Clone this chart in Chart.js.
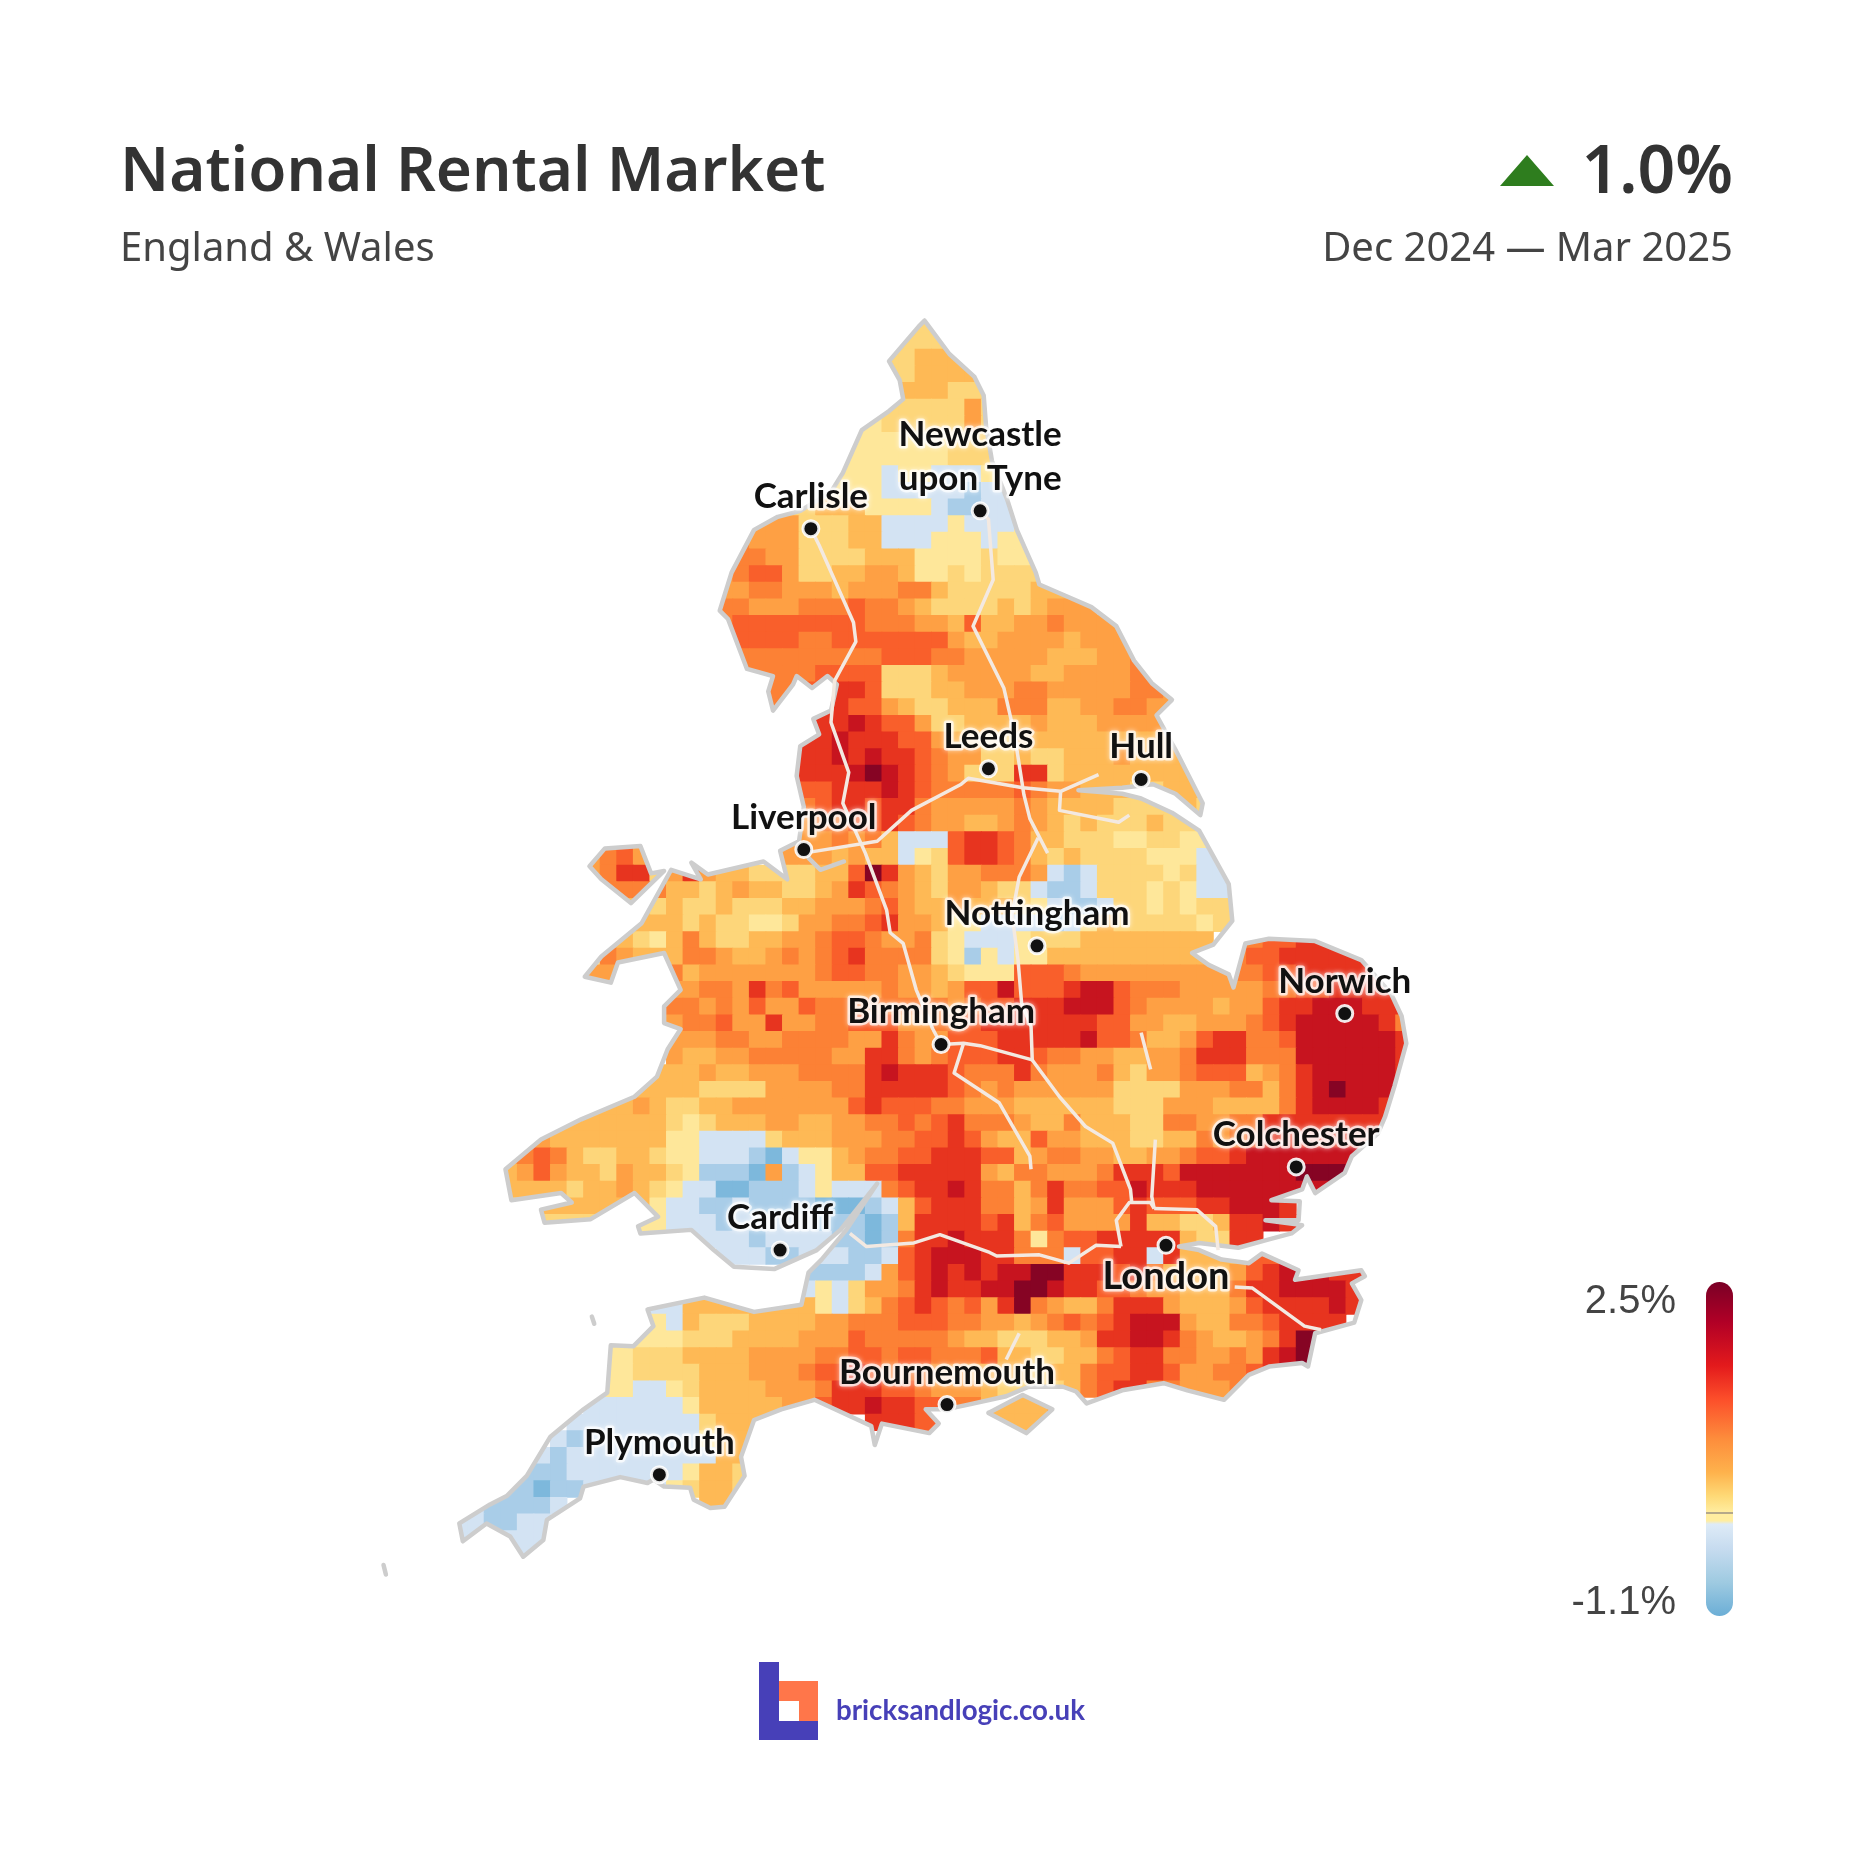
<!DOCTYPE html>
<html>
<head>
<meta charset="utf-8">
<title>National Rental Market</title>
<script src="https://cdn.jsdelivr.net/npm/chart.js@4"></script>
<style>
    html, body { margin: 0; padding: 0; background: #fff; }
    #page { position: relative; width: 1854px; height: 1854px; overflow: hidden; font-family: "Noto Sans", sans-serif; color: #333; }
    #page canvas { position: absolute; left: 0; top: 0; }
    .txt { position: absolute; white-space: nowrap; line-height: 1; }
    #title { left: 120px; top: 136px; font-size: 62px; font-weight: 600; }
    #subtitle { left: 120px; top: 226px; font-size: 40px; color: #444; }
    #change { right: 121px; top: 134px; font-size: 66px; font-weight: 600; }
    #period { right: 121px; top: 226px; font-size: 40px; color: #444; }
    #arrow { position: absolute; left: 1500px; top: 155px; width: 0; height: 0; border-left: 27px solid transparent; border-right: 27px solid transparent; border-bottom: 31px solid #2e7d1e; }
    #scaleBar { position: absolute; left: 1706px; top: 1282px; width: 27px; height: 334px; border-radius: 14px; }
    #scaleZero { position: absolute; left: 1706px; top: 1512px; width: 27px; height: 2px; background: #b5a98a; }
    .scaleLabel { right: 178px; font-family: "Liberation Sans", sans-serif; font-size: 40px; color: #444; }
    #logoStem { position: absolute; left: 759px; top: 1662px; width: 20px; height: 78px; background: #4740b8; }
    #logoBase { position: absolute; left: 759px; top: 1721px; width: 59px; height: 19px; background: #4740b8; }
    #logoBrick { position: absolute; left: 779px; top: 1681px; width: 39px; height: 40px; background: #ff764a; }
    #logoHole { position: absolute; left: 779px; top: 1701px; width: 20px; height: 20px; background: #fff; }
    #logoText { left: 836px; top: 1696px; font-family: Lato, sans-serif; font-weight: 700; font-size: 27.7px; color: #4740b8; }
</style>
</head>
<body>
<div id="page">
    <canvas id="mapChart" width="1854" height="1854"></canvas>
    <div class="txt" id="title">National Rental Market</div>
    <div class="txt" id="subtitle">England &amp; Wales</div>
    <div id="arrow"></div>
    <div class="txt" id="change">1.0%</div>
    <div class="txt" id="period">Dec 2024 — Mar 2025</div>
    <div id="scaleBar"></div>
    <div id="scaleZero"></div>
    <div class="txt scaleLabel" id="scaleMax" style="top:1279px">2.5%</div>
    <div class="txt scaleLabel" id="scaleMin" style="top:1580px">-1.1%</div>
    <div id="logoStem"></div><div id="logoBase"></div><div id="logoBrick"></div><div id="logoHole"></div>
    <div class="txt" id="logoText">bricksandlogic.co.uk</div>
</div>

<script>
// rent change by map cell, one entry per row: "startColumn:levels", a letter per cell
const levelKeys = 'abcdefghijkl'.split('');
const levelValues = [-1.0, -0.6, -0.25, 0.15, 0.4, 0.65, 0.9, 1.15, 1.4, 1.7, 2.0, 2.4];
const levelColors = ['#7db8dc', '#a9cde8', '#d3e3f3', '#fee79a', '#fdd67a', '#feb955', '#fea044', '#fc8135', '#f95f2b', '#e7341f', '#c7141f', '#860424'];

const cellRows = [
    "28:ee",
    "27:eeeef",
    "26:eefffe",
    "26:eeffffe",
    "26:efffeee",
    "25:eeeeeege",
    "24:ddeeeeegee",
    "24:ddddddeeee",
    "23:dddddddeeee",
    "23:dddcddcccddd",
    "22:ddddcccccbccc",
    "19:eeefffddddcbbccc",
    "18:gggeeeffccccdcccd",
    "17:hgggeeeffcccdddcdd",
    "17:hhggeeeefffddddeddd",
    "16:ghiigeeffggfddedeeee",
    "16:gghhgggfggghhfeeeeefff",
    "16:hhggghhhihhgfeeeefefggg",
    "16:hiiiiiiiihhhggfiffgghgggg",
    "16:hiiiihhiiiiiiigffggggfgggg",
    "17:hhhhhhhhhiiihhgggggfffgghh",
    "17:hhhhhiiiieeefgggggffgggghhg",
    "18:hhhiijjieeeffggghhggggghhgg",
    "19:hhijjiigfeefffhhhffgghhgg",
    "22:jjkjiigeeffffgfffggggf",
    "20:jjjkjjjiigffeefffffffffff",
    "21:jjkjkjjihggeefeefffgfffff",
    "21:jjjklkjihgeeejjeffffffffff",
    "21:iijjjkjihhhhhihggfffeeffff",
    "20:ghijjijjhggggghgffffeeeefee",
    "20:gghhiijihggffghgfefeeefeeee",
    "20:ggghghfcccijjihffeeeddeedddd",
    "8:ghiggf 20:gggfgffcdeijjihfefeeeedddcccc",
    "8:ghjjeg 14:jgffeeeeffiljgfegghhhgcbceeeedeccccc",
    "9:hh 11:hhffefgffeefgjihgfeggfeecbbceeededccce",
    "10:ffefeefeeeffggghigffgfffedcbbceededeeee",
    "9:ggfffefeeddegghhijggfddccccbcdfeeeeedeef",
    "7:ffffedfhfeeffgghiihgghedcccdeeeffffffff 47:hhiijjjj",
    "6:gfdhgfffhhgffghghijhhhhedbdcddfffffffffff 47:hiijjjjj",
    "8:ggf 12:hhfggggggghiihhggfedddiiihggggggggghhiijjjjj",
    "13:gghhgjhiggggghggfgiikiiijkkihhhggggghhiijjjji",
    "13:hhghgiggihhhhhhhhghiijjjkkkihggggfggijjkkkjjj",
    "13:ghhiggjgghhiiigghhijjjjjjjiiggffggghijkkkkkjh",
    "13:ggghhgghhhhggjhggiiijjjjjkiihffgijjhhikkkkkkjj",
    "13:gffgghhhhhggjjhghiiijjihhggffgghjjjhhhkkkkkkjj",
    "12:fffgffggghhhhjkjjjihhhjhggghfegghiiifghjkkkkkj",
    "10:fffffeeeegggghhjjjjjihghggggggeeeeggghhfhjklkkkj",
    "8:fffgfeeffgggggggijiiihhgggffffffeeegggffffhjkkkkjj",
    "6:fffffffedefffggffgghhihijhhhgffhfffeehhgghhjjjjjjjj",
    "5:gfffffffddccccefffggghhiijigffiggfffeeffhghijjjjjjjj",
    "3:ghihfeeffeddcccbacddfghhiijjjiifghhggffgghiijkkkkkkkkk",
    "2:ffgigffegffedbbbagbcdffiijjjjjgfhhggghjjjikkkkkkklllk",
    "2:fffffeffgfedccaabbbcdccchijjkjhhfhjhhiikjjjkkkkkkkk",
    "2:eeefffffffdccbbcbbbbaaabcfijjjhhfgjgggijiiijjkkkj",
    "5:eeee 11:ddcccbcccccbbbabfjjjjijfhiggggjffeefjjkj",
    "12:ccccccbccccbbabhjjkjjjhdhiijjjjjfeejj",
    "16:cccbbcccbbcijkkkjjhhhciijjcjffffiiijjj",
    "21:bbbbcgijkjkjkklljjjijhffffgijkkkjjj",
    "21:cdcegghjkjjkkllkjjiihggfffhjjkkkkjj",
    "11:cccffffffffdcefhijihigjlhgffhjjjgfffgijjjjkjj",
    "11:ddcfeeeffffgghhhiiihhggfghihijkkkgffhhijjjj",
    "9:dddddeeeffffgggihhhhhgffeeeffgjjkkjhgffghjlll",
    "9:ddeeeffffgggghhiihiihhhiffeeffhijjhhgghgjkll",
    "9:ddeeeefffggghiijihhhggffffeffhiijjigghhijj",
    "9:ddccdeffffggghjjjiihgggfeeeefhijjhhggghh",
    "8:ccccccdfffffggijjkjjiihhffffg",
    "7:ccccccccefffg 25:jjjii 32:ffff",
    "6:cbcccccccdfff 33:ff",
    "5:cbcccccccccfff",
    "4:bbbcccccccdffee",
    "3:bbabbc 12:cdeffee",
    "1:cbbbbc 15:ffff",
    "0:ccbbcc",
    "0:ccc 3:cccc",
    "3:ccc"
];

// map grid, in map units
const gridLeft = 378, gridTop = 266, cellSize = 14;
const mapXRange = [6.3, 1553.9];
const mapYRange = [9.4, 1550.9];

// outlines, map units
const coastMain = [[778,270],[799,298],[820,317],[828,333],[830,359],[835,388],[848,421],[856,446],[872,482],[875,492],[896,501],[919,511],[940,527],[955,556],[970,575],[987,589],[974,602],[990,631],[1013,676],[1011,686],[990,668],[971,660],[945,663],[908,665],[945,668],[961,672],[987,684],[1010,699],[1035,744],[1038,775],[1022,795],[1004,802],[1018,812],[1035,820],[1039,831],[1049,794],[1069,790],[1108,792],[1147,808],[1172,836],[1181,855],[1185,878],[1175,914],[1167,940],[1161,954],[1139,973],[1133,987],[1108,1004],[1101,990],[1097,1001],[1071,1010],[1095,1011],[1094,1027],[1066,1027],[1097,1031],[1088,1038],[1069,1043],[1043,1050],[1010,1046],[993,1049],[1010,1052],[1029,1060],[1052,1063],[1063,1055],[1094,1069],[1091,1077],[1147,1069],[1150,1074],[1139,1080],[1147,1094],[1141,1113],[1108,1122],[1102,1150],[1097,1147],[1069,1150],[1052,1157],[1031,1178],[1000,1170],[980,1164],[945,1170],[915,1181],[906,1171],[895,1167],[866,1167],[847,1175],[815,1182],[796,1186],[779,1186],[790,1198],[782,1206],[742,1198],[736,1216],[733,1200],[685,1178],[657,1186],[634,1195],[629,1209],[623,1226],[626,1242],[609,1268],[597,1269],[583,1262],[580,1252],[558,1251],[549,1245],[544,1248],[521,1243],[490,1251],[487,1261],[459,1279],[456,1296],[439,1310],[428,1293],[408,1282],[388,1297],[385,1282],[411,1266],[425,1259],[442,1242],[462,1209],[490,1186],[510,1172],[513,1132],[532,1133],[549,1116],[544,1102],[592,1092],[634,1104],[674,1098],[680,1071],[691,1060],[712,1035],[738,996],[707,1035],[687,1052],[651,1068],[617,1066],[600,1052],[581,1035],[538,1038],[536,1032],[553,1024],[533,1004],[496,1026],[457,1029],[454,1018],[480,1012],[471,1004],[429,1010],[424,984],[454,959],[488,942],[533,923],[552,906],[561,883],[572,866],[558,861],[558,847],[572,833],[558,802],[519,810],[513,827],[491,822],[505,805],[539,777],[564,732],[589,740],[581,726],[595,736],[642,725],[662,740],[656,716],[672,708],[676,679],[670,653],[673,628],[689,618],[684,605],[699,598],[704,576],[696,569],[683,579],[670,569],[667,576],[650,598],[646,582],[650,569],[628,563],[612,521],[605,514],[615,482],[634,446],[654,435],[673,430],[699,414],[709,398],[725,362],[748,346],[760,336],[757,320],[748,304],[773,275],[778,270]];
const coastAnglesey = [[495,729],[508,714],[538,712],[547,735],[558,733],[530,760],[505,740],[495,729]];
const coastWight = [[832,1189],[861,1174],[886,1186],[864,1206],[832,1189]];
const coastMersey = [[680,722],[690,732],[710,725]];
const coastLundy = [[497,1108],[499,1114]];
const coastScilly = [[321,1317],[323,1325]];

// motorways, map units
const roadM6 = [[682,445],[689,459],[718,524],[720,540],[702,573],[699,608],[714,650],[709,676],[728,718],[746,766],[749,785],[760,794],[771,833],[785,866],[792,879]];
const roadM1North = [[825,430],[832,437],[836,488],[819,527],[845,579],[854,618],[862,669],[867,689],[882,718]];
const roadM1South = [[874,705],[858,738],[852,770],[857,808],[860,844],[868,864],[869,892],[892,923],[914,948],[937,962],[952,1001],[953,1011]];
const roadM62 = [[676,718],[738,708],[767,682],[809,660],[815,655],[861,663],[893,666],[925,652]];
const roadM18 = [[893,666],[892,682],[942,692],[951,686]];
const roadM25 = [[972,1017],[969,1012],[951,1012],[940,1027],[944,1049]];
const roadM25East = [[972,1017],[1008,1018],[1024,1032],[1026,1052]];
const roadM4 = [[715,1038],[729,1049],[769,1046],[791,1039],[833,1054],[839,1057],[875,1056],[900,1063],[923,1048],[944,1049]];
const roadM20 = [[1040,1083],[1055,1084],[1099,1116],[1113,1119]];
const roadM40 = [[811,878],[803,903],[841,928],[867,973],[868,984]];
const roadM42 = [[792,879],[811,878],[825,880],[869,892]];
const roadM11 = [[961,869],[969,900]];
const roadM11South = [[973,959],[970,1007],[972,1017]];
const roadM3 = [[858,1122],[847,1144]];

// cities
const cityNames = ['Newcastle\nupon Tyne', 'Carlisle', 'Leeds', 'Hull', 'Liverpool', 'Nottingham', 'Norwich', 'Birmingham', 'Colchester', 'London', 'Cardiff', 'Bournemouth', 'Plymouth'];
const cityX = [825, 682, 832, 961, 676, 873, 1133, 792, 1092, 982, 656, 797, 554];
const cityY = [430, 445, 647, 656, 715, 796, 853, 879, 982, 1048, 1052, 1182, 1241];

// colour legend, top to bottom
const scaleStops = [[0, '#7a0026'], [0.12, '#b10026'], [0.25, '#e31a1c'], [0.35, '#fc4e2a'], [0.47, '#fd8d3c'], [0.57, '#feb24c'], [0.64, '#fed976'], [0.69, '#ffeda0'], [0.715, '#ffeda0'], [0.725, '#deebf7'], [0.8, '#c6dbef'], [0.9, '#9ecae1'], [1, '#6baed6']];

document.getElementById('scaleBar').style.background =
    'linear-gradient(to bottom, ' + scaleStops.map(s => s[1] + ' ' + (s[0] * 100) + '%').join(', ') + ')';

// build the cells from the rows
const cellPoints = [];
const cellColors = [];
cellRows.forEach((row, r) => {
    row.split(' ').forEach(run => {
        const [start, levels] = run.split(':');
        levels.split('').forEach((key, i) => {
            const level = levelKeys.indexOf(key);
            cellPoints.push({ x: gridLeft + (Number(start) + i + 0.5) * cellSize, y: gridTop + (r + 0.5) * cellSize, v: levelValues[level] });
            cellColors.push(levelColors[level]);
        });
    });
});

const toPoints = line => line.map(p => ({ x: p[0], y: p[1] }));

function outlineDataset(line) {
    return { data: toPoints(line), showLine: true, borderColor: '#cdcdcd', borderWidth: 4.5, borderJoinStyle: 'round', borderCapStyle: 'round', pointRadius: 0, order: 2 };
}
function roadDataset(line) {
    return { data: toPoints(line), showLine: true, borderColor: '#f3e9e1', borderWidth: 3.5, borderJoinStyle: 'round', pointRadius: 0, order: 1 };
}

// Keep the cells inside the coast
const coastClip = {
    id: 'coastClip',
    beforeDatasetDraw(chart, args) {
        if (args.index !== 0) return;
        const { x, y } = chart.scales;
        const ctx = chart.ctx;
        ctx.save();
        ctx.beginPath();
        [coastMain, coastAnglesey, coastWight].forEach(line => {
            line.forEach((p, i) => {
                const px = x.getPixelForValue(p[0]), py = y.getPixelForValue(p[1]);
                if (i === 0) ctx.moveTo(px, py); else ctx.lineTo(px, py);
            });
            ctx.closePath();
        });
        ctx.clip();
    },
    afterDatasetDraw(chart, args) {
        if (args.index === 0) chart.ctx.restore();
    }
};

// City names over the map, with a soft white edge
const cityLabels = {
    id: 'cityLabels',
    afterDatasetsDraw(chart) {
        const { x, y } = chart.scales;
        const ctx = chart.ctx;
        ctx.save();
        ctx.textAlign = 'center';
        ctx.textBaseline = 'alphabetic';
        ctx.lineJoin = 'round';
        cityNames.forEach((name, i) => {
            const isLondon = name === 'London';
            ctx.font = (isLondon ? '700 38px' : '700 35px') + ' Lato, sans-serif';
            const lines = name.split('\n');
            const px = x.getPixelForValue(cityX[i]);
            const py = isLondon ? y.getPixelForValue(cityY[i]) + 44 : y.getPixelForValue(cityY[i]) - 21;
            lines.reverse().forEach((text, k) => {
                const ly = py - k * 44;
                ctx.shadowColor = 'rgba(255,255,255,0.9)';
                ctx.shadowBlur = 5;
                ctx.strokeStyle = 'rgba(255,255,255,0.7)';
                ctx.lineWidth = 5;
                ctx.strokeText(text, px, ly);
                ctx.shadowBlur = 0;
                ctx.fillStyle = '#111';
                ctx.fillText(text, px, ly);
            });
        });
        ctx.restore();
    }
};

new Chart(document.getElementById('mapChart'), {
    type: 'scatter',
    data: {
        datasets: [
            {
                label: 'Rent change',
                data: cellPoints,
                backgroundColor: cellColors,
                borderWidth: 0,
                pointStyle: 'rect',
                // rect points are drawn with side radius * sqrt(2)
                pointRadius: c => (c.chart.scales.x.getPixelForValue(cellSize) - c.chart.scales.x.getPixelForValue(0)) / Math.SQRT2 + 0.6,
                order: 3
            },
            outlineDataset(coastMain),
            outlineDataset(coastAnglesey),
            outlineDataset(coastWight),
            outlineDataset(coastMersey),
            outlineDataset(coastLundy),
            outlineDataset(coastScilly),
            roadDataset(roadM6),
            roadDataset(roadM1North),
            roadDataset(roadM1South),
            roadDataset(roadM62),
            roadDataset(roadM18),
            roadDataset(roadM25),
            roadDataset(roadM25East),
            roadDataset(roadM4),
            roadDataset(roadM20),
            roadDataset(roadM40),
            roadDataset(roadM42),
            roadDataset(roadM11),
            roadDataset(roadM11South),
            roadDataset(roadM3),
            {
                label: 'Cities',
                data: cityX.map((x, i) => ({ x: x, y: cityY[i] })),
                backgroundColor: '#111',
                borderColor: 'rgba(255,255,255,0.9)',
                borderWidth: 3,
                pointRadius: 8,
                order: 0
            }
        ]
    },
    options: {
        responsive: false,
        animation: false,
        layout: { padding: 0 },
        plugins: { legend: { display: false }, tooltip: { enabled: false }, title: { display: false } },
        scales: {
            x: { type: 'linear', min: mapXRange[0], max: mapXRange[1], display: false },
            y: { type: 'linear', min: mapYRange[0], max: mapYRange[1], reverse: true, display: false }
        }
    },
    plugins: [coastClip, cityLabels]
});
</script>
</body>
</html>
